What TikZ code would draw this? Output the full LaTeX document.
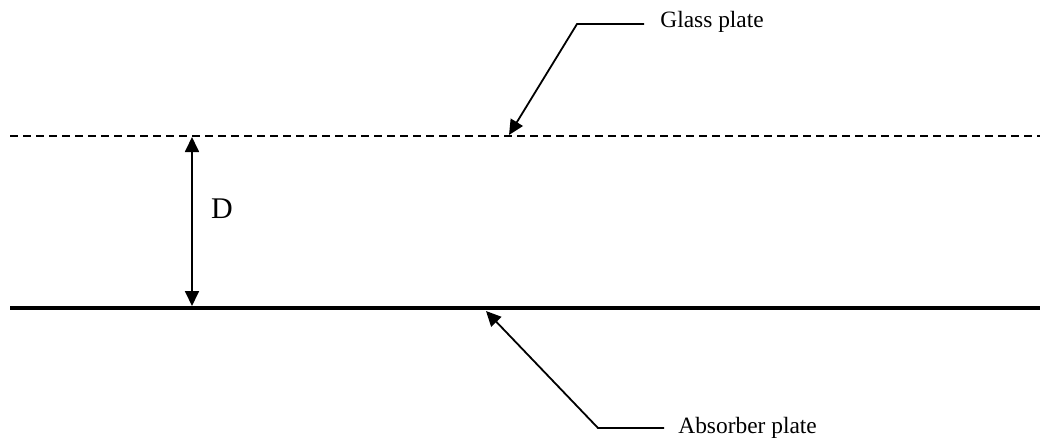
\documentclass[tikz,border=0pt]{standalone}
\usepackage{fontspec}
\setmainfont{Liberation Serif}
\usetikzlibrary{arrows.meta,positioning}

\begin{document}
\begin{tikzpicture}[x=0.5pt,y=-0.5pt,
  glass/.style={line width=0.9pt,dash pattern=on 4pt off 2.5pt},
  absorber/.style={line width=2.3pt},
  leader/.style={-{Triangle[length=7.5pt,width=7pt]},line width=0.9pt},
  gap/.style={{Triangle[length=7.5pt,width=7pt]}-{Triangle[length=7.5pt,width=7pt]},line width=0.9pt},
  lbl/.style={font=\fontsize{11.7}{14}\selectfont,inner sep=0pt}
]
  \useasboundingbox (0,0) rectangle (1040,441);

  % the two plates
  \coordinate (glassL) at (10,136);
  \coordinate (glassR) at (1040,136);
  \coordinate (absL) at (10,308);
  \coordinate (absR) at (1040,308);
  \draw[glass] (glassL) -- (glassR);
  \draw[absorber] (absL) -- (absR);

  % spacing between the plates
  \coordinate (gapTop) at (192,137);
  \coordinate (gapBot) at (192,306);
  \draw[gap] (gapTop) -- (gapBot);
  \node[lbl,font=\fontsize{15}{18}\selectfont] (dist) at (222,209) {D};

  % labels with leaders
  \node[lbl,anchor=west] (glassText) at (660,22) {Glass plate};
  \coordinate (glassKnee) at (577,24);
  \coordinate (glassTip) at (509,135);
  \draw[leader] ([xshift=-8pt]glassText.west |- glassKnee) -- (glassKnee) -- (glassTip);

  \node[lbl,anchor=west] (absText) at (678,428) {Absorber plate};
  \coordinate (absKnee) at (598,428);
  \coordinate (absTip) at (486,311);
  \draw[leader] ([xshift=-7pt]absText.west |- absKnee) -- (absKnee) -- (absTip);

\end{tikzpicture}
\end{document}
